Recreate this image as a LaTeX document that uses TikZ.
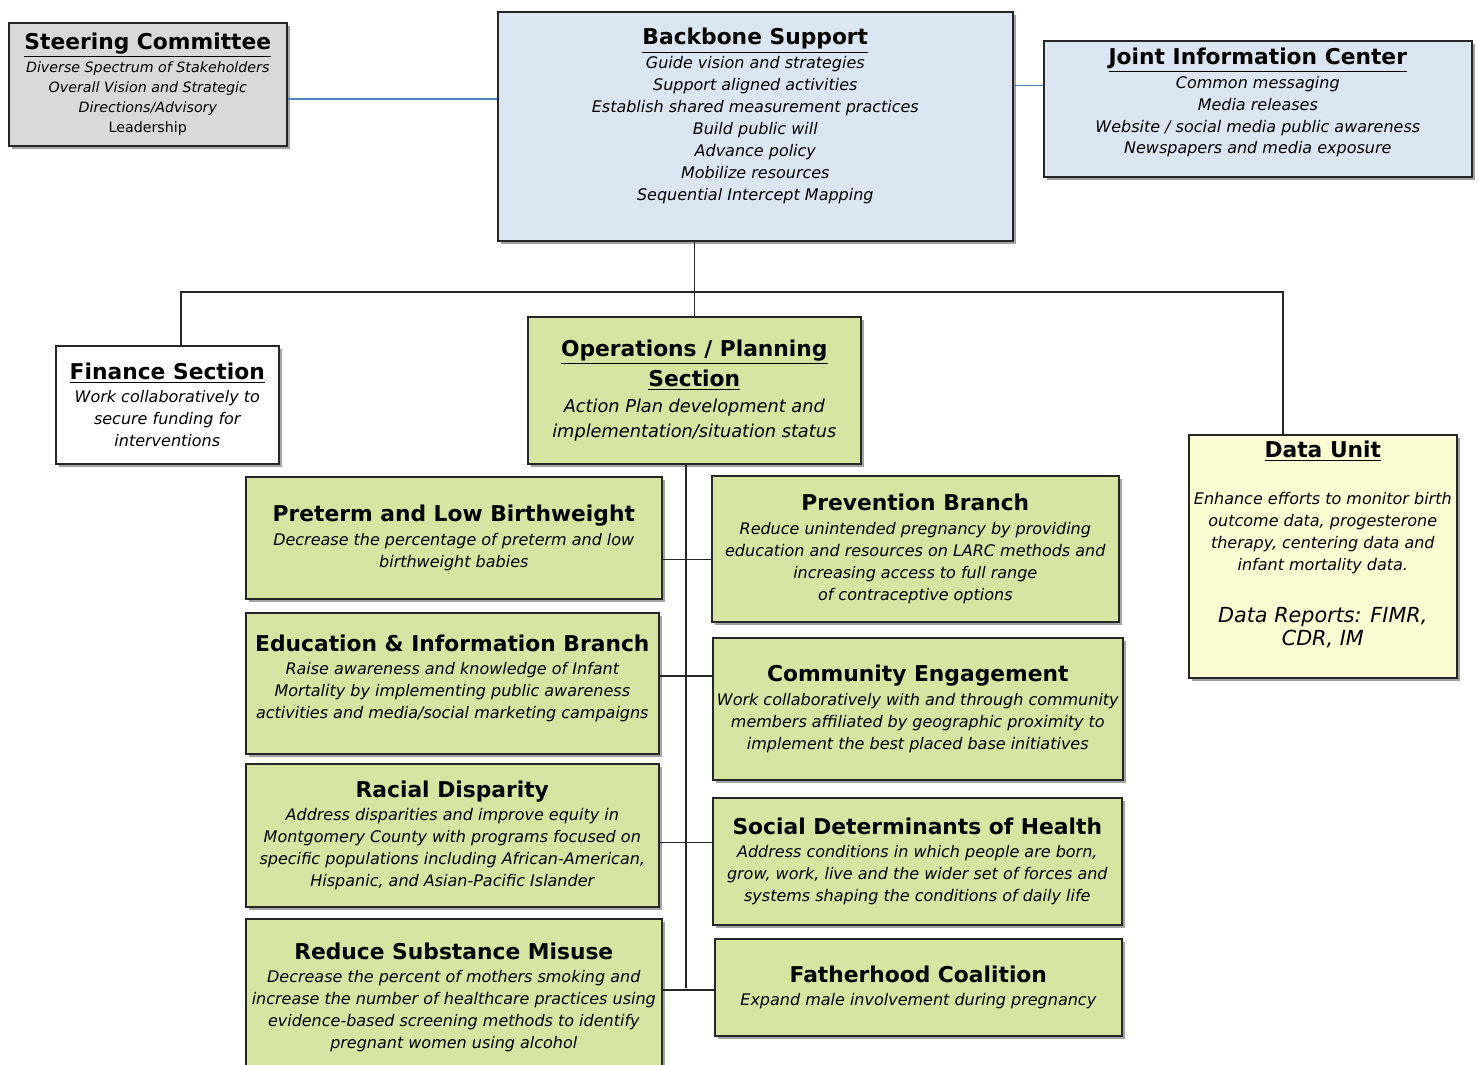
\documentclass[tikz,border=0pt]{standalone}
\usepackage{fontspec}
\setmainfont{DejaVu Sans}
\usepackage{xcolor}
\usetikzlibrary{shadows}

\definecolor{boxgrey}{HTML}{D9D9D9}
\definecolor{boxblue}{HTML}{DCE6F2}
\definecolor{boxgreen}{HTML}{D7E4A2}
\definecolor{boxyellow}{HTML}{FCFCD2}
\definecolor{linkblue}{HTML}{4F81BD}

\newcommand{\boxtext}{\fontsize{9.1}{12.5}\selectfont\itshape}
\newcommand{\boxhead}[1]{{\fontsize{12.4}{15}\selectfont\bfseries\upshape #1}}
\newcommand{\boxulhead}[1]{\boxhead{\underline{#1}}}

\begin{document}
\begin{tikzpicture}[
   x=0.02cm,y=-0.02cm,
   font=\boxtext,
   box/.style={draw=black!85,line width=0.9pt,align=center,anchor=north west,inner sep=1pt,
      drop shadow={shadow xshift=2pt,shadow yshift=-2pt,fill=black!55,opacity=0.65}},
   boxsize/.style 2 args={minimum width=#1*0.02cm,minimum height=#2*0.02cm},
   greybox/.style={box,fill=boxgrey},
   bluebox/.style={box,fill=boxblue},
   greenbox/.style={box,fill=boxgreen},
   yellowbox/.style={box,fill=boxyellow},
   whitebox/.style={box,fill=white},
   link/.style={draw=black!85,line width=0.8pt},
   bluelink/.style={draw=linkblue,line width=0.8pt}]
\fill[white] (0,0) rectangle (1478,1065);
\useasboundingbox (0,0) rectangle (1478,1065);

% top row
\node[greybox,boxsize={278}{123},font=\fontsize{8.1}{11.4}\selectfont\itshape] (steer) at (8,22)
   {\boxulhead{Steering Committee}\\[2pt]
   Diverse Spectrum of Stakeholders\\ Overall Vision and Strategic\\
   Directions/Advisory\\ \upshape Leadership};
\node[bluebox,boxsize={515}{229}] (backbone) at (497,11) {\boxulhead{Backbone Support}\\[1pt]
   Guide vision and strategies\\ Support aligned activities\\
   Establish shared measurement practices\\ Build public will\\ Advance policy\\
   Mobilize resources\\ Sequential Intercept Mapping\\[1pt]};
\node[bluebox,boxsize={428}{136}] (jic) at (1043,40) {\boxulhead{Joint Information Center}\\[1pt]
   Common messaging\\ Media releases\\
   Website / social media public awareness\\ Newspapers and media exposure\\[-3.5pt]};

% sections
\node[whitebox,boxsize={223}{118}] (fin) at (55,345) {\boxulhead{Finance Section}\\[1pt]
   Work collaboratively to\\ secure funding for\\ interventions};
\node[greenbox,boxsize={333}{147},font=\fontsize{10.1}{14}\selectfont\itshape] (ops) at (527,316)
   {\boxulhead{Operations / Planning}\\[2pt]
   \boxulhead{Section}\\[1pt]
   Action Plan development and\\ implementation/situation status};
\node[yellowbox,boxsize={268}{243}] (data) at (1188,434) {\boxulhead{Data Unit}\\[14pt]
   Enhance efforts to monitor birth\\ outcome data, progesterone\\
   therapy, centering data and\\ infant mortality data.\\[17pt]
   {\fontsize{11.8}{13.6}\selectfont Data Reports: FIMR,}\\[1pt]
   {\fontsize{11.8}{13.6}\selectfont CDR, IM}\\[2pt]};

% branches, left column
\node[greenbox,boxsize={416}{122}] (pre) at (245,476) {\boxhead{Preterm and Low Birthweight}\\[1pt]
   Decrease the percentage of preterm and low\\ birthweight babies};
\node[greenbox,boxsize={413}{141}] (edu) at (245,612) {\boxhead{Education \& Information Branch}\\[1pt]
   Raise awareness and knowledge of Infant\\ Mortality by implementing public awareness\\
   activities and media/social marketing campaigns\\[-5pt]};
\node[greenbox,boxsize={413}{143}] (rac) at (245,763) {\boxhead{Racial Disparity}\\[1pt]
   Address disparities and improve equity in\\ Montgomery County with programs focused on\\
   specific populations including African-American,\\ Hispanic, and Asian-Pacific Islander};
\node[greenbox,boxsize={416}{157}] (sub) at (245,918) {\boxhead{Reduce Substance Misuse}\\[1pt]
   Decrease the percent of mothers smoking and\\ increase the number of healthcare practices using\\
   evidence-based screening methods to identify\\ pregnant women using alcohol};

% branches, right column
\node[greenbox,boxsize={407}{146}] (prev) at (711,475) {\boxhead{Prevention Branch}\\[1pt]
   Reduce unintended pregnancy by providing\\ education and resources on LARC methods and\\
   increasing access to full range\\ of contraceptive options};
\node[greenbox,boxsize={410}{142}] (com) at (712,637) {\boxhead{Community Engagement}\\[1pt]
   Work collaboratively with and through community\\ members affiliated by geographic proximity to\\
   implement the best placed base initiatives};
\node[greenbox,boxsize={409}{127}] (soc) at (712,797) {\boxhead{Social Determinants of Health}\\[1pt]
   Address conditions in which people are born,\\ grow, work, live and the wider set of forces and\\
   systems shaping the conditions of daily life};
\node[greenbox,boxsize={407}{97}] (fat) at (714,938) {\boxhead{Fatherhood Coalition}\\[1pt]
   Expand male involvement during pregnancy};

% connectors
\coordinate (busL) at (181,292);
\coordinate (busR) at (1283,292);
\coordinate (trunk) at (686,988);
\draw[bluelink] (steer.-6) -- (steer.-6 -| backbone.west);
\draw[bluelink] (backbone.9) -- (backbone.9 -| jic.west);
\draw[link] (ops.north |- backbone.south) -- (ops.north);
\draw[link] (busL |- fin.north) -- (busL) -- (busR) -- (busR |- data.north);
\draw[link] (trunk |- ops.south) -- (trunk);
\draw[link] (pre.-6) -- (pre.-6 -| prev.west);
\draw[link] (edu.2) -- (edu.2 -| com.west);
\draw[link] (rac.-2) -- (rac.-2 -| soc.west);
\draw[link] (sub.2) -- (sub.2 -| fat.west);
\end{tikzpicture}
\end{document}
